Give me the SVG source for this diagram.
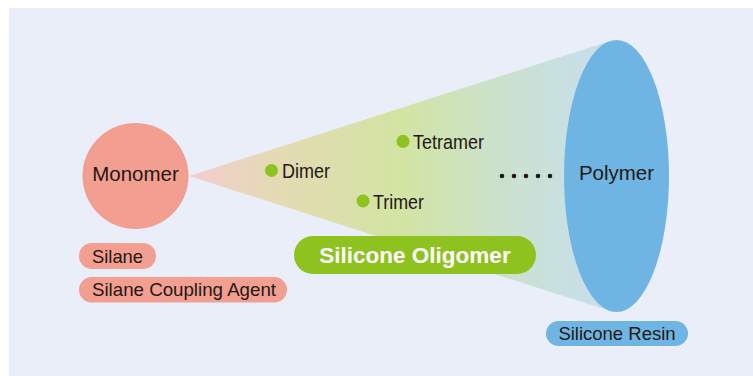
<svg xmlns="http://www.w3.org/2000/svg" width="753" height="376" viewBox="0 0 753 376">
<style>
text{font-family:"Liberation Sans",Arial,sans-serif;fill:#231815}
.lbl{font-size:18.5px}
.big{font-size:20.5px}
.cond{font-size:20.5px}
.pink{fill:#f29e90}
.blue{fill:#6fb5e3}
.green{fill:#8dc21f}
.dot{fill:#231815}
</style>
<defs>
<linearGradient id="cone" gradientUnits="userSpaceOnUse" x1="189" y1="0" x2="610" y2="0">
<stop offset="0" stop-color="#f4cdd0"/>
<stop offset="0.2" stop-color="#e4dab5"/>
<stop offset="0.5" stop-color="#d2e4a2"/>
<stop offset="0.75" stop-color="#cbe1cf"/>
<stop offset="1" stop-color="#c6dfee"/>
</linearGradient>
</defs>
<rect x="0" y="0" width="753" height="376" fill="#ffffff"/>
<rect x="9" y="8" width="744" height="368" fill="#eaeef9"/>
<g id="connectors">
<polygon id="cone-shape" points="189,176 610,41 610,311" fill="url(#cone)"/>
<g id="ellipsis">
<circle class="dot" cx="502" cy="176" r="2.3"/>
<circle class="dot" cx="514" cy="176" r="2.3"/>
<circle class="dot" cx="526" cy="176" r="2.3"/>
<circle class="dot" cx="538" cy="176" r="2.3"/>
<circle class="dot" cx="550" cy="176" r="2.3"/>
</g>
</g>
<g id="monomer">
<circle class="pink" cx="135.5" cy="176" r="53"/>
<text class="big" x="135.5" y="181" text-anchor="middle">Monomer</text>
</g>
<g id="silane">
<rect class="pink" x="79" y="243" width="77" height="26" rx="13"/>
<text class="lbl" x="92" y="262.5" textLength="51" lengthAdjust="spacingAndGlyphs">Silane</text>
</g>
<g id="silane-coupling-agent">
<rect class="pink" x="79" y="277" width="208" height="25.5" rx="12.75"/>
<text class="lbl" x="92" y="296" textLength="184" lengthAdjust="spacingAndGlyphs">Silane Coupling Agent</text>
</g>
<g id="dimer">
<circle class="green" cx="271.5" cy="170.5" r="6.5"/>
<text class="cond" x="282" y="178" textLength="48" lengthAdjust="spacingAndGlyphs">Dimer</text>
</g>
<g id="trimer">
<circle class="green" cx="363" cy="201" r="6.5"/>
<text class="cond" x="373" y="209" textLength="51" lengthAdjust="spacingAndGlyphs">Trimer</text>
</g>
<g id="tetramer">
<circle class="green" cx="403" cy="141.3" r="6.5"/>
<text class="cond" x="413" y="149" textLength="71" lengthAdjust="spacingAndGlyphs">Tetramer</text>
</g>
<g id="silicone-oligomer">
<rect class="green" x="294" y="236" width="242" height="38" rx="19"/>
<text x="415" y="263" text-anchor="middle" style="font-size:22.5px;font-weight:bold;fill:#ffffff">Silicone Oligomer</text>
</g>
<g id="polymer">
<ellipse class="blue" cx="616.5" cy="176" rx="52.5" ry="136"/>
<text class="big" x="616.5" y="180" text-anchor="middle">Polymer</text>
</g>
<g id="silicone-resin">
<rect class="blue" x="546" y="321" width="142" height="25" rx="12.5"/>
<text class="lbl" x="617" y="339.5" text-anchor="middle">Silicone Resin</text>
</g>
</svg>
